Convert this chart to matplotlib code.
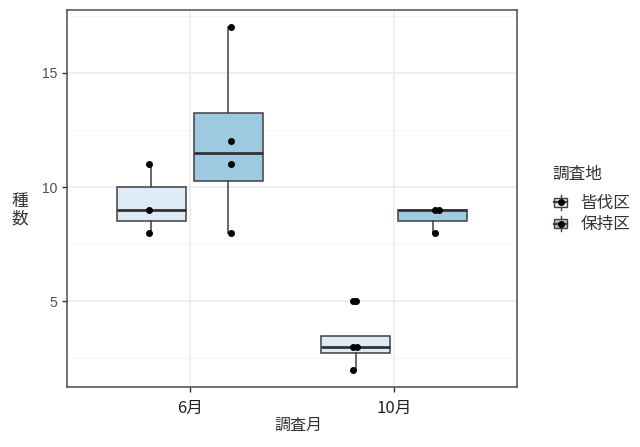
import numpy as np
import matplotlib.pyplot as plt
from matplotlib.patches import Rectangle, Patch
from matplotlib.lines import Line2D
from matplotlib.legend_handler import HandlerBase

# donnees
months = ['6月', '10月']
sites = ['皆伐区', '保持区']
fills = ['#DEEBF7', '#9ECAE1']

jun_clear = [8, 9, 11]
jun_keep = [8, 11, 12, 17]
oct_clear = [2, 3, 3, 5]
oct_keep = [8, 9, 9]

# petit decalage horizontal des points
jit_jun_clear = [-0.012, -0.012, -0.012]
jit_jun_keep = [0.012, 0.012, 0.012, 0.012]
jit_oct_clear = [-0.013, -0.016, 0.003, -0.012]
jit_oct_keep = [0.010, 0.011, 0.031]

data = [[jun_clear, jun_keep], [oct_clear, oct_keep]]
jits = [[jit_jun_clear, jit_jun_keep], [jit_oct_clear, jit_oct_keep]]

cjk = ['Noto Sans CJK JP', 'DejaVu Sans']
edge = '#404040'


class HandlerBoxKey(HandlerBase):
    def create_artists(self, legend, orig_handle, xdescent, ydescent,
                       width, height, fontsize, trans):
        x0, y0 = -xdescent, -ydescent
        cx, cy = x0 + width / 2, y0 + height / 2
        fc = orig_handle.get_facecolor()
        wl = Line2D([cx, cx], [y0, y0 + height], color=edge, lw=1, transform=trans)
        rect = Rectangle((x0 + width * 0.1, cy - height * 0.32), width * 0.8, height * 0.64,
                         facecolor=fc, edgecolor=edge, lw=1, transform=trans)
        med = Line2D([x0 + width * 0.1, x0 + width * 0.9], [cy, cy], color=edge, lw=1.6,
                     transform=trans)
        dot = Line2D([cx], [cy], marker='o', ms=4, color='black', linestyle='', transform=trans)
        return [wl, rect, med, dot]


fig = plt.figure(figsize=(6.4, 4.47), dpi=100)
ax = fig.add_axes([67 / 640, 60 / 447, 450 / 640, 377 / 447])

dodge = 0.1875
bw = 0.3375
for i in range(len(months)):
    for j in range(len(sites)):
        vals = data[i][j]
        pos = i + 1 + (j - 0.5) * 2 * dodge
        ax.boxplot(vals, positions=[pos], widths=bw, patch_artist=True, showcaps=False,
                   manage_ticks=False,
                   boxprops=dict(facecolor=fills[j], edgecolor=edge, linewidth=1.1),
                   medianprops=dict(color='#333333', linewidth=2.0),
                   whiskerprops=dict(color=edge, linewidth=1.1),
                   flierprops=dict(marker='o', markerfacecolor='black', markeredgecolor='black',
                                   markersize=4))
        ax.plot(pos + np.array(jits[i][j]), vals, 'o', color='black', ms=4, zorder=4)

ax.set_xlim(0.4, 2.6)
ax.set_ylim(1.25, 17.75)
ax.set_xticks([1, 2])
ax.set_xticklabels(months, fontfamily=cjk, fontsize=12, color='#222222')
ax.set_yticks([5, 10, 15])
ax.set_yticklabels(['5', '10', '15'], fontfamily='Liberation Sans', fontsize=10, color='#4D4D4D')
ax.set_yticks([2.5, 7.5, 12.5, 17.5], minor=True)
ax.tick_params(axis='both', which='major', length=3.5, width=1, color='#333333')
ax.tick_params(axis='x', pad=6)
ax.tick_params(axis='y', pad=3.5)
ax.tick_params(axis='y', which='minor', length=0)

ax.grid(True, which='major', color='#EBEBEB', lw=1.1)
ax.grid(True, which='minor', axis='y', color='#F2F2F2', lw=0.6)
ax.set_axisbelow(True)
for sp in ax.spines.values():
    sp.set_color('#4D4D4D')
    sp.set_linewidth(1.1)

fig.text(20 / 640, 1 - 210 / 447, '種\n数', ha='center', va='center', fontfamily=cjk,
         fontsize=12, color='#333333', linespacing=1.05)
fig.text(298 / 640, 1 - 425 / 447, '調査月', ha='center', va='center', fontfamily=cjk,
         fontsize=11.5, color='#333333')

handles = [Patch(facecolor=c) for c in fills]
leg = fig.legend(handles, sites, title='調査地', loc='upper left',
                 bbox_to_anchor=(546 / 640, 1 - 159 / 447), frameon=False,
                 prop={'family': cjk, 'size': 12},
                 title_fontproperties={'family': cjk, 'size': 12},
                 handler_map={Patch: HandlerBoxKey()},
                 handlelength=0.95, handleheight=0.95, handletextpad=0.7,
                 labelspacing=0.25, borderaxespad=0)
leg._legend_box.align = 'left'
leg._legend_box.sep = 9
leg.get_title().set_color('#333333')
for t in leg.get_texts():
    t.set_color('#333333')

fig.savefig('out.png', dpi=100)
